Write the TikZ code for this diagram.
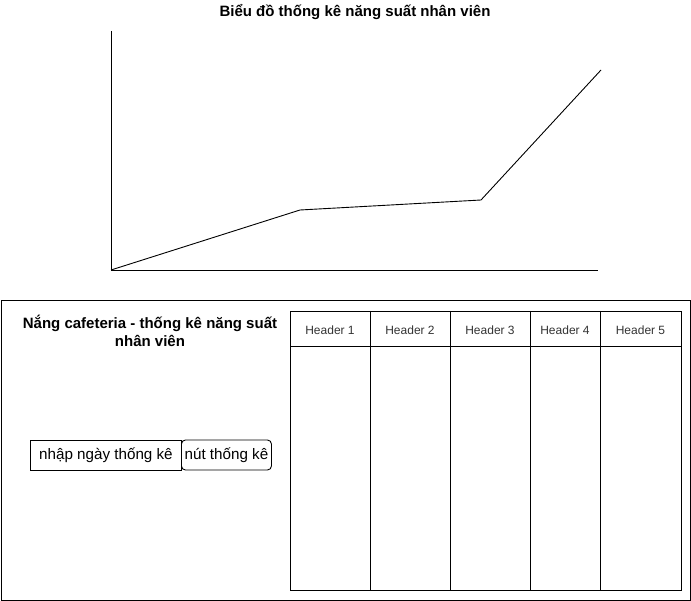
\documentclass[tikz,border=0pt]{standalone}
\usepackage{fontspec}
\setmainfont{Liberation Sans}
\begin{document}
\begin{tikzpicture}[x=1pt,y=-1pt,
  line width=0.9pt,
  ttl/.style={font=\bfseries\fontsize{15}{18}\selectfont, align=center, inner sep=0},
  hdr/.style={font=\fontsize{12}{14}\selectfont, text=black!80, inner sep=0},
  btn/.style={draw, minimum height=30pt, inner sep=0, font=\fontsize{15.2}{18}\selectfont}]
\useasboundingbox (0,0) rectangle (691,601);
% chart
\node[ttl] (title) at (355,12) {Biểu đồ thống kê năng suất nhân viên};
\coordinate (ytop) at (111,31);
\coordinate (o) at (111,270);
\coordinate (xend) at (598,270);
\draw (ytop) -- (o) -- (xend);
\coordinate (p1) at (300,210);
\coordinate (p2) at (481,200);
\coordinate (p3) at (601,70);
\draw (o) -- (p1) -- (p2) -- (p3);
% panel
\draw (1,300) rectangle (690,600);
\node[ttl] (ptitle) at (150,331) {Nắng cafeteria - thống kê năng suất\\nhân viên};
\node[btn, minimum width=151pt, anchor=west] (inp) at (30,455) {nhập ngày thống kê};
\node[btn, minimum width=90pt, rounded corners=4pt, anchor=west] (bt) at (181,455) {nút thống kê};
% table
\draw (290,311) rectangle (681,590);
\draw (290,346) -- (681,346);
\foreach \x in {370,450,530,600} \draw (\x,311) -- (\x,590);
\node[hdr] (h1) at (330,330) {Header 1};
\node[hdr] (h2) at (410,330) {Header 2};
\node[hdr] (h3) at (490,330) {Header 3};
\node[hdr] (h4) at (565,330) {Header 4};
\node[hdr] (h5) at (640.5,330) {Header 5};
\end{tikzpicture}
\end{document}
